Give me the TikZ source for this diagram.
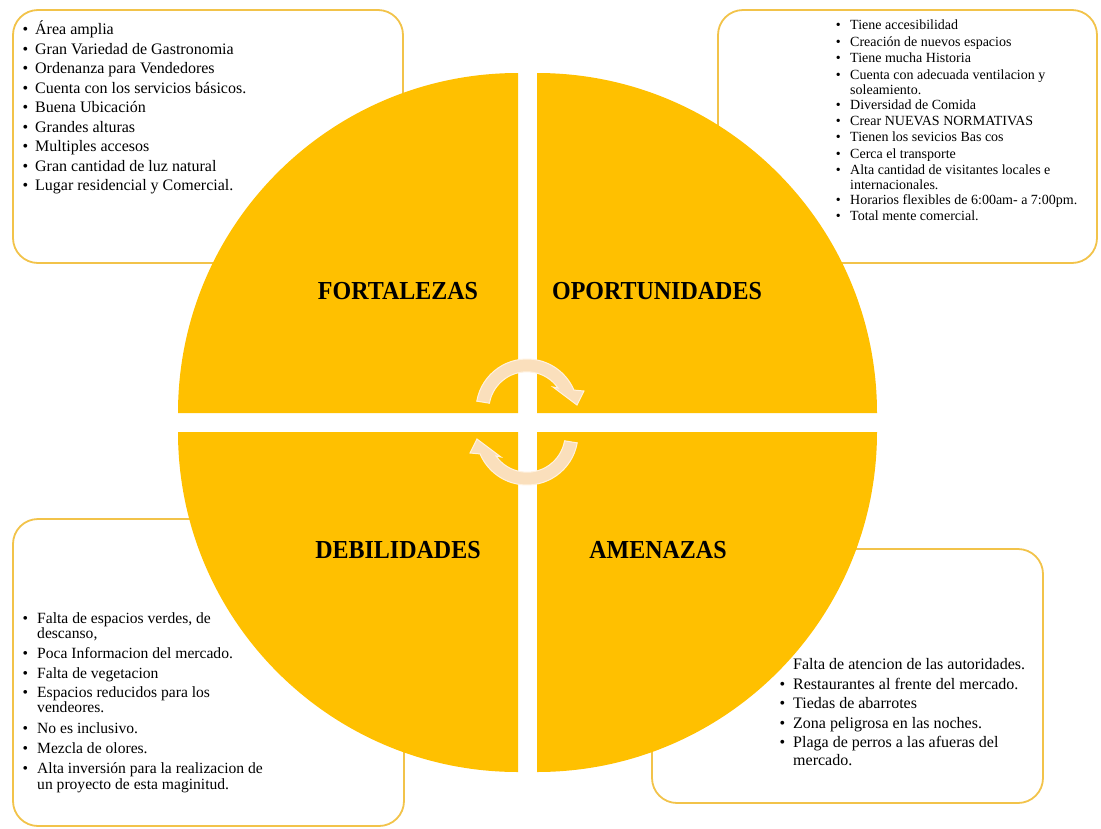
\documentclass[tikz,border=0pt]{standalone}
\usepackage{fontspec}
\setmainfont{Liberation Serif}
\definecolor{gold}{HTML}{FFC000}
\definecolor{boxline}{HTML}{F2C34A}
\definecolor{peach}{HTML}{FADFBC}
\definecolor{peachline}{HTML}{FFF2E0}
\newcommand\bul[1]{\llap{\textbullet\hspace{#1}}}
\begin{document}
\begin{tikzpicture}[x=1pt,y=-1pt,
  infobox/.style={draw=boxline,line width=1.8pt,rounded corners=25pt,fill=white},
  quad/.style={fill=gold,draw=none},
  title/.style={font=\fontsize{24}{28}\selectfont\bfseries,anchor=base,inner sep=0pt,yscale=1.08},
  tlt/.style={font=\fontsize{16}{19}\selectfont,anchor=base west,inner sep=0pt},
  trt/.style={font=\fontsize{14}{16}\selectfont,anchor=base west,inner sep=0pt},
  blt/.style={font=\fontsize{15.6}{19}\selectfont,anchor=base west,inner sep=0pt},
  brt/.style={font=\fontsize{16}{19}\selectfont,anchor=base west,inner sep=0pt},
  cyc/.style={fill=peach,draw=peachline,line width=1pt}]
\useasboundingbox (0,0) rectangle (1101,828);
\fill[white] (0,0) rectangle (1101,828);
% boxes
\draw[infobox] (13,10) rectangle (403,263);
\draw[infobox] (718,10) rectangle (1097,263);
\draw[infobox] (13,519) rectangle (404,826);
\draw[infobox] (652,549) rectangle (1043,803);
% top-left text
\node[tlt] (tl1) at (35,34) {\bul{7pt}Área amplia};
\node[tlt] (tl2) at (35,54) {\bul{7pt}Gran Variedad de Gastronomia};
\node[tlt] (tl3) at (35,73) {\bul{7pt}Ordenanza para Vendedores};
\node[tlt] (tl4) at (35,93) {\bul{7pt}Cuenta con los servicios básicos.};
\node[tlt] (tl5) at (35,112) {\bul{7pt}Buena Ubicación};
\node[tlt] (tl6) at (35,132) {\bul{7pt}Grandes alturas};
\node[tlt] (tl7) at (35,151) {\bul{7pt}Multiples accesos};
\node[tlt] (tl8) at (35,171) {\bul{7pt}Gran cantidad de luz natural};
\node[tlt] (tl9) at (35,190) {\bul{7pt}Lugar residencial y Comercial.};
% top-right text
\node[trt] (tr1) at (850,29) {\bul{9.5pt}Tiene accesibilidad};
\node[trt] (tr2) at (850,46) {\bul{9.5pt}Creación de nuevos espacios};
\node[trt] (tr3) at (850,62) {\bul{9.5pt}Tiene mucha Historia};
\node[trt] (tr4) at (850,79) {\bul{9.5pt}Cuenta con adecuada ventilacion y};
\node[trt] (tr4b) at (850,94) {soleamiento.};
\node[trt] (tr5) at (850,109) {\bul{9.5pt}Diversidad de Comida};
\node[trt] (tr6) at (850,125) {\bul{9.5pt}Crear NUEVAS NORMATIVAS};
\node[trt] (tr7) at (850,141) {\bul{9.5pt}Tienen los sevicios Bas cos};
\node[trt] (tr8) at (850,158) {\bul{9.5pt}Cerca el transporte};
\node[trt] (tr9) at (850,174) {\bul{9.5pt}Alta cantidad de visitantes locales e};
\node[trt] (tr9b) at (850,189) {internacionales.};
\node[trt] (tr10) at (850,204) {\bul{9.5pt}Horarios flexibles de 6:00am- a 7:00pm.};
\node[trt] (tr11) at (850,220) {\bul{9.5pt}Total mente comercial.};
% bottom-left text
\node[blt] (bl1) at (37,623) {\bul{9pt}Falta de espacios verdes, de};
\node[blt] (bl1b) at (37,638) {descanso,};
\node[blt] (bl2) at (37,658) {\bul{9pt}Poca Informacion del mercado.};
\node[blt] (bl3) at (37,678) {\bul{9pt}Falta de vegetacion};
\node[blt] (bl4) at (37,697) {\bul{9pt}Espacios reducidos para los};
\node[blt] (bl4b) at (37,712) {vendeores.};
\node[blt] (bl5) at (37,733) {\bul{9pt}No es inclusivo.};
\node[blt] (bl6) at (37,753) {\bul{9pt}Mezcla de olores.};
\node[blt] (bl7) at (37,773) {\bul{9pt}Alta inversión para la realizacion de};
\node[blt] (bl7b) at (37,789) {un proyecto de esta maginitud.};
% bottom-right text
\node[brt] (br1) at (793,669) {\bul{8pt}Falta de atencion de las autoridades.};
\node[brt] (br2) at (793,689) {\bul{8pt}Restaurantes al frente del mercado.};
\node[brt] (br3) at (793,708) {\bul{8pt}Tiedas de abarrotes};
\node[brt] (br4) at (793,728) {\bul{8pt}Zona peligrosa en las noches.};
\node[brt] (br5) at (793,747) {\bul{8pt}Plaga de perros a las afueras del};
\node[brt] (br5b) at (793,765) {mercado.};
% quadrants
\fill[quad] (518,413) -- ++(-340,0) arc[start angle=180,end angle=270,radius=340] -- cycle;
\fill[quad] (537,413) -- ++(0,-340) arc[start angle=270,end angle=360,radius=340] -- cycle;
\fill[quad] (518,432) -- ++(-340,0) arc[start angle=180,end angle=90,radius=340] -- cycle;
\fill[quad] (537,432) -- ++(340,0) arc[start angle=0,end angle=90,radius=340] -- cycle;
% titles
\node[title] (fo) at (398,299) {FORTALEZAS};
\node[title] (op) at (657,299) {OPORTUNIDADES};
\node[title] (de) at (398,558) {DEBILIDADES};
\node[title] (am) at (658,558) {AMENAZAS};
% cycle arrows
\draw[cyc] (527,410) ++(190:51) arc[start angle=190,end angle=337,radius=51] -- (584,391) -- (577,405) -- (553,387) -- (558,388) arc[start angle=325,end angle=190,radius=38] -- cycle;
\begin{scope}[rotate around={180:(527,422)}]
\draw[cyc] (527,410) ++(190:51) arc[start angle=190,end angle=337,radius=51] -- (584,391) -- (577,405) -- (553,387) -- (558,388) arc[start angle=325,end angle=190,radius=38] -- cycle;
\end{scope}
\end{tikzpicture}
\end{document}
